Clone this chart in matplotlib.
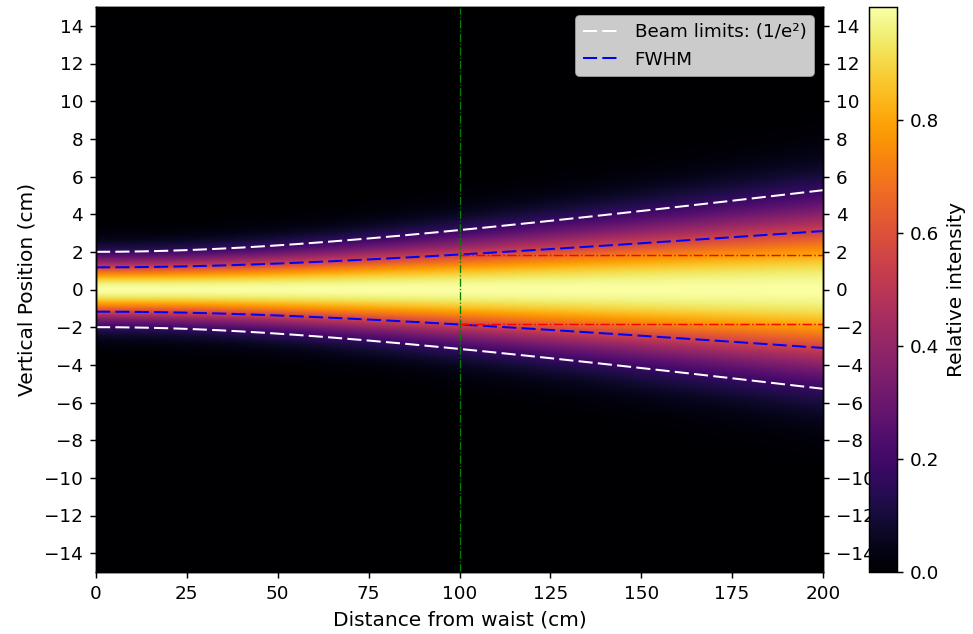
import numpy as np
import matplotlib.pyplot as plt

# beam parameters (cm)
waist_radius = 2.0        # 1/e^2 radius at z = 0
rayleigh_range = 82.0     # z where radius grows by sqrt(2)
profile_exponent = 1.7    # shape of the shaded profile, exp(-k y^2 / w^2)
z_max = 200
y_max = 15
marker_z = 100            # position of the green reference line
y_ticks = np.arange(-14, 15, 2)
x_ticks = [0, 25, 50, 75, 100, 125, 150, 175, 200]
cbar_ticks = [0.0, 0.2, 0.4, 0.6, 0.8]

fwhm_factor = np.sqrt(np.log(2) / 2)   # half-width at half max / w

z = np.linspace(0, z_max, 401)
y = np.linspace(-y_max, y_max, 601)
w = waist_radius * np.sqrt(1 + (z / rayleigh_range) ** 2)
half_fwhm = w * fwhm_factor

# relative profile, normalised per column
Z, Y = np.meshgrid(z, y)
W = waist_radius * np.sqrt(1 + (Z / rayleigh_range) ** 2)
intensity = np.exp(-profile_exponent * Y ** 2 / W ** 2) * 0.995

fig = plt.figure(figsize=(973 / 132, 634 / 132), dpi=132)
ax = fig.add_axes([96 / 973, 62 / 634, 727 / 973, 565 / 634])

im = ax.imshow(intensity, extent=[0, z_max, -y_max, y_max], origin='lower',
               aspect='auto', cmap='inferno', vmin=0, vmax=1)

dash = (7, 2.6)
ax.plot(z, w, '--', color='white', lw=1.1, dashes=dash, label='Beam limits: (1/e²)')
ax.plot(z, -w, '--', color='white', lw=1.1, dashes=dash)
ax.plot(z, half_fwhm, '--', color='blue', lw=1.1, dashes=dash, label='FWHM')
ax.plot(z, -half_fwhm, '--', color='blue', lw=1.1, dashes=dash)

# reference at marker_z
fwhm_at_marker = waist_radius * np.sqrt(1 + (marker_z / rayleigh_range) ** 2) * fwhm_factor
ax.axvline(marker_z, color='green', linestyle='-.', linewidth=0.7)
ax.hlines([fwhm_at_marker, -fwhm_at_marker], marker_z, z_max,
          colors='red', linestyles='-.', linewidth=0.8)

ax.set_xlim(0, z_max)
ax.set_ylim(-y_max, y_max)
ax.set_xticks(x_ticks)
ax.set_yticks(y_ticks)
ax.set_xlabel('Distance from waist (cm)', fontsize=11)
ax.set_ylabel('Vertical Position (cm)', fontsize=11)
ax.legend(loc='upper right')

ax2 = ax.twinx()
ax2.set_ylim(-y_max, y_max)
ax2.set_yticks(y_ticks)

cax = fig.add_axes([869 / 973, 62 / 634, 28 / 973, 565 / 634])
cax.set_zorder(5)
cb = fig.colorbar(im, cax=cax, ticks=cbar_ticks)
cb.set_label('Relative intensity', fontsize=11)

fig.savefig('out.png', dpi=132)
